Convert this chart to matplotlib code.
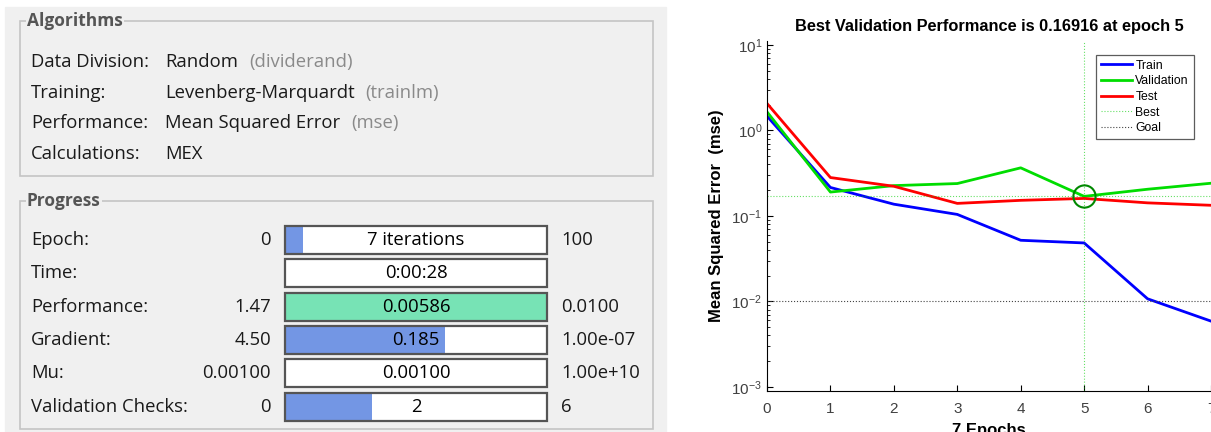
import numpy as np
import matplotlib
matplotlib.use("Agg")
import matplotlib.pyplot as plt
from matplotlib.patches import Rectangle

# ---- data ----
alg_labels = ["Data Division:", "Training:", "Performance:", "Calculations:"]
alg_values = ["Random", "Levenberg-Marquardt", "Mean Squared Error", "MEX"]
alg_funcs = ["(dividerand)", "(trainlm)", "(mse)", ""]

prog_labels = ["Epoch:", "Time:", "Performance:", "Gradient:", "Mu:", "Validation Checks:"]
prog_start = ["0", "", "1.47", "4.50", "0.00100", "0"]
prog_value = ["7 iterations", "0:00:28", "0.00586", "0.185", "0.00100", "2"]
prog_end = ["100", "", "0.0100", "1.00e-07", "1.00e+10", "6"]
prog_fill = [0.07, 0.0, 1.0, 0.61, 0.0, 0.333]

epochs = np.arange(8)
train = [1.47, 0.215, 0.137, 0.104, 0.0518, 0.0482, 0.0107, 0.00586]
valid = [1.65, 0.19, 0.226, 0.239, 0.365, 0.16916, 0.205, 0.241]
test = [2.07, 0.281, 0.222, 0.14, 0.152, 0.16, 0.142, 0.133]
best_epoch = 5
best_perf = 0.16916
goal = 0.01

W, H = 1211, 432
fig = plt.figure(figsize=(W / 100, H / 100), dpi=100)
fig.patch.set_facecolor("white")

# ---- left panel (training tool window) in pixel coords ----
bg = fig.add_axes([0, 0, 1, 1])
bg.set_xlim(0, W)
bg.set_ylim(H, 0)
bg.axis("off")

ui_font = "Open Sans"
txt_col = "#1a1a1a"
fs = 13.3
bg.add_patch(Rectangle((5, 7), 661, H - 7, color="#f0f0f0", zorder=0))


def group_box(y0, y1, title):
    bg.add_patch(Rectangle((20, y0), 633, y1 - y0, fill=False,
                           ec="#c4c4c4", lw=1.2, zorder=1))
    bg.text(27, y0, title, fontsize=12.5, fontweight="bold", color="#555555",
            family=ui_font, va="center", ha="left", zorder=3,
            bbox=dict(boxstyle="square,pad=0.05", fc="#f0f0f0", ec="none"))


group_box(21, 176, "Algorithms")
group_box(201, 429, "Progress")

for i, (lab, val, fn) in enumerate(zip(alg_labels, alg_values, alg_funcs)):
    y = 62 + i * 30.7
    bg.text(31, y, lab, fontsize=fs, color=txt_col, family=ui_font, va="center")
    t = bg.text(165, y, val, fontsize=fs, color=txt_col, family=ui_font, va="center")
    if fn:
        bg.annotate(fn, xy=(1, 0.5), xycoords=t, xytext=(8, 0),
                    textcoords="offset points", fontsize=fs, color="#8a8a8a",
                    family=ui_font, va="center")

for i in range(len(prog_labels)):
    y = 240 + i * 33.3
    bg.text(31, y, prog_labels[i], fontsize=fs, color=txt_col, family=ui_font, va="center")
    bg.text(271, y, prog_start[i], fontsize=fs, color=txt_col, family=ui_font,
            va="center", ha="right")
    bg.text(561, y, prog_end[i], fontsize=fs, color=txt_col, family=ui_font, va="center")
    x0, bw, bh = 285, 262, 28
    bg.add_patch(Rectangle((x0, y - bh / 2), bw, bh, fc="white", ec="none", zorder=1))
    fc = "#77e3b5" if prog_labels[i] == "Performance:" else "#7396e4"
    if prog_fill[i] > 0:
        bg.add_patch(Rectangle((x0, y - bh / 2), bw * prog_fill[i], bh, fc=fc,
                               ec="none", zorder=2))
    bg.add_patch(Rectangle((x0, y - bh / 2), bw, bh, fill=False, ec="#555555",
                           lw=1.6, zorder=3))
    bg.text(x0 + bw / 2, y, prog_value[i], fontsize=fs, color="black",
            family=ui_font, va="center", ha="center", zorder=4)

# ---- performance plot ----
ax = fig.add_axes([767 / W, 1 - 391 / H, 444 / W, 350 / H])
ax.semilogy(epochs, train, color="#0000ff", lw=2, label="Train")
ax.semilogy(epochs, valid, color="#00dd00", lw=2, label="Validation")
ax.semilogy(epochs, test, color="#ff0000", lw=2, label="Test")
ax.axhline(best_perf, color="#00cc00", ls=":", lw=0.8, alpha=0.6, label="Best")
ax.axvline(best_epoch, color="#00cc00", ls=":", lw=0.8, alpha=0.6)
ax.axhline(goal, color="#444444", ls=":", lw=0.8, label="Goal")
ax.plot([best_epoch], [best_perf], "o", mfc="none", mec="#008800", ms=16, mew=1.5)

ax.set_xlim(0, 7)
ax.set_ylim(10 ** -3.05, 10 ** 1.047)
ax.set_xticks(range(8))
ax.spines["top"].set_visible(False)
ax.spines["right"].set_visible(False)
ax.tick_params(direction="in", labelsize=11, labelcolor="#404040", length=4)
ax.tick_params(axis="x", pad=8)
ax.tick_params(which="minor", direction="in", length=2.5)
ax.set_title("Best Validation Performance is 0.16916 at epoch 5", fontsize=11.8,
             fontweight="bold", family="Liberation Sans", pad=7)
ax.set_ylabel("Mean Squared Error  (mse)", fontsize=12, fontweight="bold",
              family="Liberation Sans", labelpad=5)
ax.set_xlabel("7 Epochs", fontsize=12, fontweight="bold", family="Liberation Sans",
              labelpad=5)
for lab in ax.get_xticklabels() + ax.get_yticklabels():
    lab.set_family("Liberation Sans")
leg = ax.legend(loc="upper right", bbox_to_anchor=(0.975, 0.978),
                prop={"family": "Liberation Sans", "size": 8.8},
                frameon=True, fancybox=False, edgecolor="#333333",
                handlelength=2.5, handletextpad=0.3, borderpad=0.4, labelspacing=0.3)
leg.get_frame().set_linewidth(0.9)

fig.savefig("out.png", dpi=100)
